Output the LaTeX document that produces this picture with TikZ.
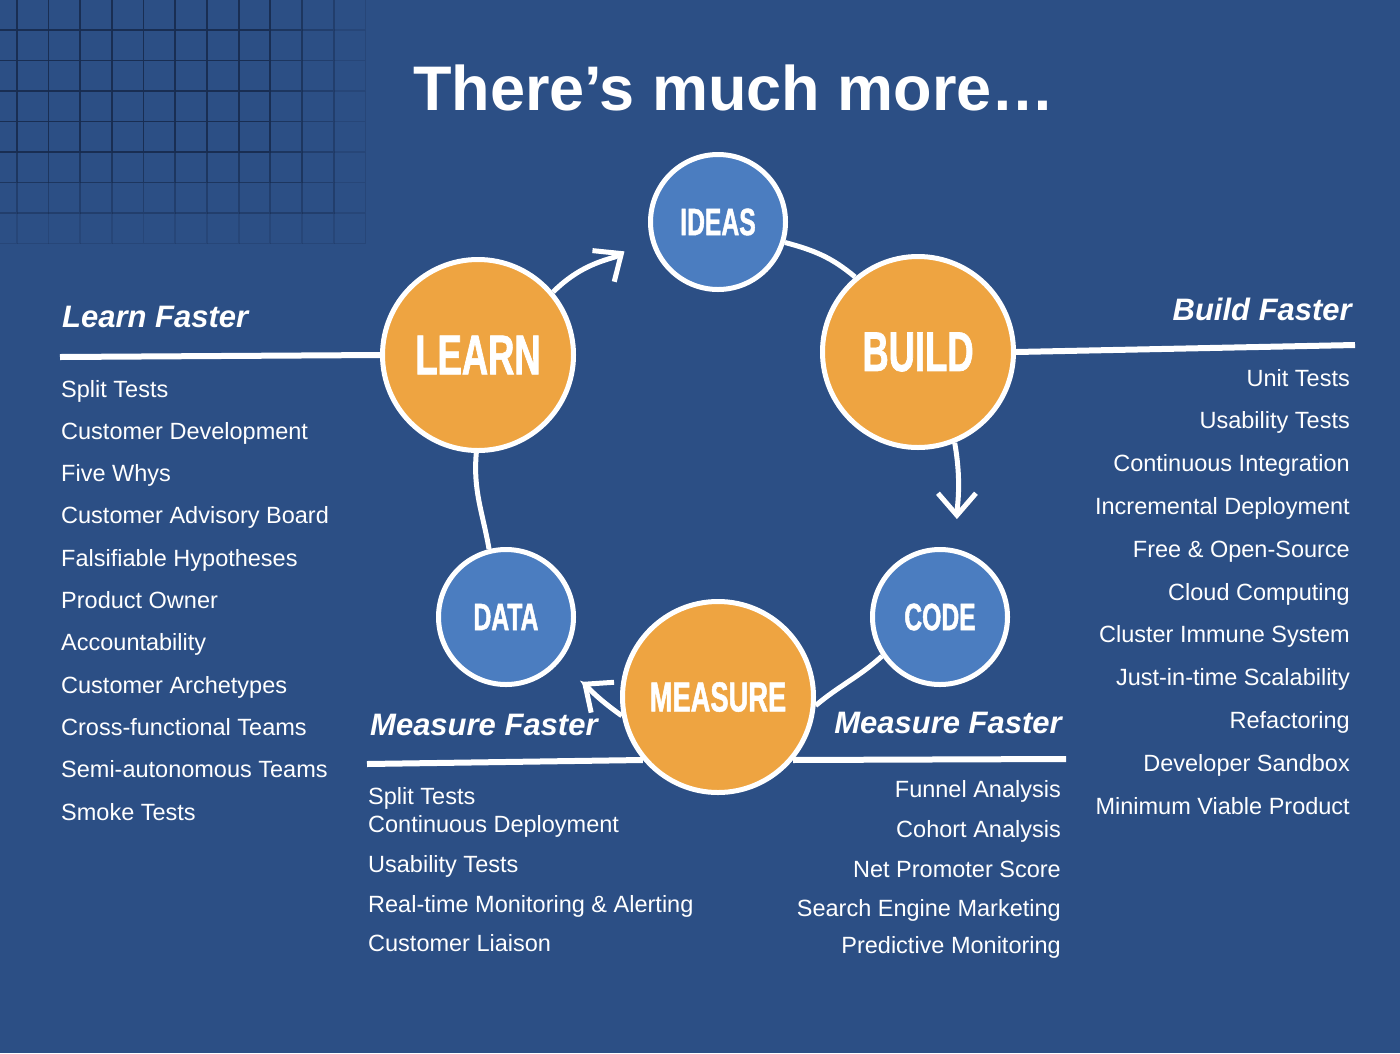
\documentclass[tikz,border=0pt]{standalone}
\usepackage{fontspec}
\setmainfont{Liberation Sans}
\newfontfamily\condfont[FakeStretch=0.65,FakeBold=1.2]{Liberation Sans}
\usepackage{tikz}
\usetikzlibrary{arrows.meta,positioning}
\definecolor{bgblue}{HTML}{2C4F85}
\definecolor{gridnavy}{HTML}{172B4E}
\definecolor{stepor}{HTML}{EEA441}
\definecolor{stepbl}{HTML}{4B7DC0}

\begin{document}
\begin{tikzpicture}[
  x=1pt, y=1pt,
  big/.style={circle, draw=white, line width=5pt, fill=stepor, minimum size=191pt,
    inner sep=0pt, text=white, font=\condfont\bfseries\fontsize{56}{56}\selectfont},
  small/.style={circle, draw=white, line width=5pt, fill=stepbl, minimum size=135pt,
    inner sep=0pt, text=white, font=\condfont\bfseries\fontsize{38}{38}\selectfont},
  link/.style={draw=white, line width=5pt},
  head/.style={-{Straight Barb[length=22pt,width=38pt]}, shorten >=30pt},
  rule/.style={draw=white, line width=6pt},
  tag/.style={text=white, inner sep=0pt, font=\bfseries\itshape\fontsize{31}{31}\selectfont},
  item/.style={text=white, inner sep=0pt, font=\fontsize{23.5}{23.5}\selectfont}
]
% --- background + fading tiles top left ---
\fill[bgblue] (0,0) rectangle (1400,-1053);
\useasboundingbox (0,0) rectangle (1400,-1053);
\foreach \i in {0,...,12}
  \foreach \j in {0,...,8} {
    \pgfmathsetmacro\op{0.9*max(0,1-0.25*max(max(\i-8,0),max(\j-4,0)))}
    \draw[gridnavy, line width=1.8pt, draw opacity=\op]
      (16.7+31.7*\i,-30.5*\j) -- ++(0,-30.5)
      (16.7+31.7*\i,-30-30.5*\j) -- ++(-31.7,0);
  }

\node[anchor=base, text=white, font=\bfseries\fontsize{63}{63}\selectfont] (title)
  at (734,-110) {There’s much more…};

% --- cycle circles ---
\node[small] (ideas) at (718,-222) {IDEAS};
\node[big] (learn) at (478,-355) {LEARN};
\node[big] (build) at (918,-352) {BUILD};
\node[small] (code) at (940,-617) {CODE};
\node[big, font=\condfont\bfseries\fontsize{42}{42}\selectfont] (measure) at (718,-697) {MEASURE};
\node[small] (data) at (506,-617) {DATA};

\draw[link, head] (learn.40) to[out=45, in=215] (ideas.190);
\draw[link] (ideas.343) to[out=-15, in=140] (build.130);
\draw[link, head] (build.292) to[out=-80, in=90] (code.76);
\draw[link] (code.214) to[out=222, in=40] (measure.355);
\draw[link, head] (measure.191) to[out=145, in=-37] (data.318);
\draw[link] (data.104) to[out=100, in=-95] (learn.269);

% --- rules under the headings ---
\coordinate (lfend) at (60,-357);
\coordinate (bfend) at (1355,-345);
\coordinate (mlend) at (367,-764);
\coordinate (mrend) at (1066,-759);
\draw[rule] (lfend) -- (learn.west);
\draw[rule] (build.east) -- (bfend);
\draw[rule] (mlend) -- (measure.220);
\draw[rule] (measure.320) -- (mrend);

\node[tag, anchor=base west] (lf) at (62,-327) {Learn Faster};
\node[tag, anchor=base east] (bf) at (1352,-320) {Build Faster};
\node[tag, anchor=base west] (mfl) at (370,-735) {Measure Faster};
\node[tag, anchor=base east] (mfr) at (1062,-733) {Measure Faster};

% --- lists ---
\foreach \t [count=\i] in {Split Tests, Customer Development, Five Whys,
    Customer Advisory Board, Falsifiable Hypotheses, Product Owner, Accountability,
    Customer Archetypes, Cross-functional Teams, Semi-autonomous Teams, Smoke Tests}
  \node[item, anchor=base west] (lrn\i) at (61,{-397-42.3*(\i-1)}) {\t};

\foreach \t [count=\i] in {Unit Tests, Usability Tests, Continuous Integration,
    Incremental Deployment, Free \& Open-Source, Cloud Computing,
    Cluster Immune System, Just-in-time Scalability, Refactoring,
    Developer Sandbox, Minimum Viable Product}
  \node[item, anchor=base east] (bld\i) at (1350,{-386-42.8*(\i-1)}) {\t};

\foreach \t/\y [count=\i] in {Split Tests/804, Continuous Deployment/832,
    Usability Tests/872, Real-time Monitoring \& Alerting/912, Customer Liaison/951}
  \node[item, anchor=base west] (msl\i) at (368,-\y) {\t};

\foreach \t/\y [count=\i] in {Funnel Analysis/797, Cohort Analysis/837,
    Net Promoter Score/877, Search Engine Marketing/916, Predictive Monitoring/953}
  \node[item, anchor=base east] (msr\i) at (1061,-\y) {\t};
\end{tikzpicture}
\end{document}
